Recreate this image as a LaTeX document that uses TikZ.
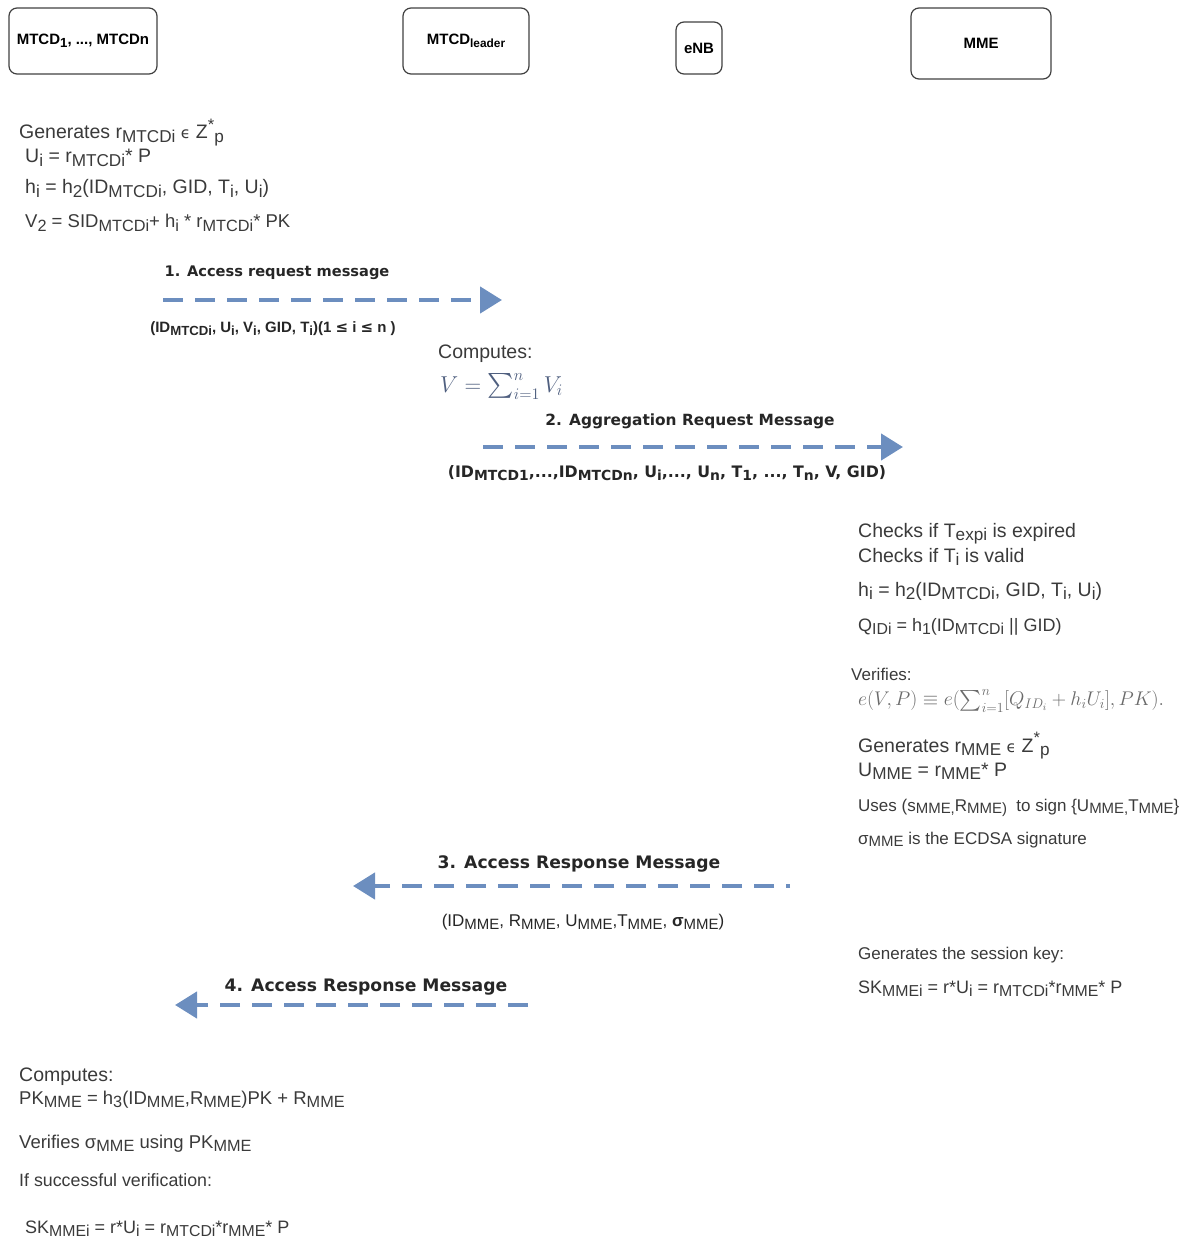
\RequirePackage{fix-cm}
\documentclass[tikz,border=0pt]{standalone}
\usepackage{exscale}
\usepackage{fontspec}
\setmainfont{Liberation Sans}
\newfontfamily\vfont{DejaVu Sans}
\usetikzlibrary{arrows.meta}

\definecolor{txt}{HTML}{3A3A3A}
\definecolor{flow}{HTML}{6C8EBF}
\definecolor{mathc}{HTML}{4F5F7F}
\definecolor{mathg}{HTML}{6A6A6A}

% lowered / raised text indices
\newcommand\sbx[1]{\raisebox{-0.32ex}{\scalebox{0.88}{#1}}}
\newcommand\spx[1]{\raisebox{0.8ex}{\scalebox{0.85}{#1}}}
\newcommand\elem{{\vfont\scalebox{0.8}{ϵ}}}

\tikzset{
  actor/.style={draw=black!75, line width=1.2pt, rounded corners=8pt, inner sep=0pt,
    font=\bfseries\fontsize{15}{18}\selectfont},
  line/.style={anchor=base west, inner sep=0pt, text=txt, font=\fontsize{#1}{22}\selectfont},
  line/.default=19.5,
  small/.style={anchor=base west, inner sep=0pt, text=txt, font=\fontsize{17}{20}\selectfont},
  msg/.style={line width=4.5pt, draw=flow, dash pattern=on 20pt off 12pt,
    -{Triangle[length=22pt,width=26pt]}},
  msglabel/.style={inner sep=0pt, text=black!85, font=\vfont\bfseries\fontsize{#1}{18}\selectfont},
  msglabel/.default=15,
}

\begin{document}
\begin{tikzpicture}[x=1pt, y=-1pt]
\useasboundingbox (0,0) rectangle (1184,1238);

% participants
\node[actor, minimum width=148pt, minimum height=66pt] (mtcd) at (83,41) {MTCD\sbx{1}, ..., MTCDn};
\node[actor, minimum width=126pt, minimum height=66pt] (leader) at (466,41) {MTCD\sbx{\scalebox{0.9}{leader}}};
\node[actor, minimum width=46pt, minimum height=52pt] (enb) at (699,48) {eNB};
\node[actor, minimum width=140pt, minimum height=71pt] (mme) at (981,43.5) {MME};

% MTCD side
\node[line] (g1) at (19,139) {Generates r\sbx{MTCDi} \elem\ Z\spx{*}\sbx{p}};
\node[line] (g2) at (25,163) {U\sbx{i} = r\sbx{MTCDi}* P};
\node[line] (g3) at (25,194) {h\sbx{i} = h\sbx{2}(ID\sbx{MTCDi}, GID, T\sbx{i}, U\sbx{i})};
\node[line=18.5] (g4) at (25,228) {V\sbx{2} = SID\sbx{MTCDi}+ h\sbx{i} * r\sbx{MTCDi}* PK};

% message 1
\coordinate (m1s) at (163,300);
\coordinate (m1e) at (502,300);
\draw[msg] (m1s) -- (m1e);
\node[msglabel=14.6] (m1l) at (277,273) {1. Access request message};
\node[inner sep=0pt, text=black!85, font=\bfseries\fontsize{15}{17}\selectfont] (m1p) at (273,329)
  {(ID\sbx{MTCDi}, U\sbx{i}, V\sbx{i}, GID, T\sbx{i})(1 {\vfont ≤} i {\vfont ≤} n )};

% leader aggregation
\node[line] (c1) at (438,358) {Computes:};
\node[anchor=base west, inner sep=0pt, text=mathc, font=\fontsize{23}{28}\selectfont] (c2) at (440,392)
  {$V = \sum_{i=1}^{n} V_i$};

% message 2
\coordinate (m2s) at (483,447);
\coordinate (m2e) at (903,447);
\draw[msg] (m2s) -- (m2e);
\node[msglabel=15.4] (m2l) at (690,421) {2. Aggregation Request Message};
\node[msglabel=15.8] (m2p) at (667,473)
  {(ID\sbx{MTCD1},...,ID\sbx{MTCDn}, U\sbx{i},..., U\sbx{n}, T\sbx{1}, ..., T\sbx{n}, V, GID)};

% MME verification
\node[line] (v1) at (858,537) {Checks if T\sbx{expi} is expired};
\node[line] (v2) at (858,562) {Checks if T\sbx{i} is valid};
\node[line] (v3) at (858,596) {h\sbx{i} = h\sbx{2}(ID\sbx{MTCDi}, GID, T\sbx{i}, U\sbx{i})};
\node[line=18] (v4) at (858,631) {Q\sbx{IDi} = h\sbx{1}(ID\sbx{MTCDi} || GID)};
\node[small] (v5) at (851,680) {Verifies:};
\node[anchor=west, inner sep=0pt, text=mathg, font=\fontsize{19.8}{24}\selectfont] (v6) at (858,701)
  {$e(V,P) \equiv e(\sum_{i=1}^{n}[Q_{ID_i} + h_iU_i], PK).$};
\node[line] (v7) at (858,752) {Generates r\sbx{MME} \elem\ Z\spx{*}\sbx{p}};
\node[line] (v8) at (858,776) {U\sbx{MME} = r\sbx{MME}* P};
\node[small] (v9) at (858,811) {Uses (s\sbx{MME,}R\sbx{MME)}\ \ to sign \{U\sbx{MME,}T\sbx{MME}\}};
\node[small] (v10) at (858,844) {σ\sbx{MME} is the ECDSA signature};

% message 3
\coordinate (m3s) at (790,886);
\coordinate (m3e) at (353,886);
\draw[msg, dash phase=16pt] (m3s) -- (m3e);
\node[msglabel=17.2] (m3l) at (579,864) {3. Access Response Message};
\node[inner sep=0pt, text=black!85, font=\fontsize{17}{20}\selectfont] (m3p) at (583,922)
  {(ID\sbx{MME}, R\sbx{MME}, U\sbx{MME},T\sbx{MME}, \textbf{σ}\sbx{MME})};

% session key on MME side
\node[small] (k1) at (858,959) {Generates the session key:};
\node[line=18] (k2) at (858,993) {SK\sbx{MMEi} = r*U\sbx{i} = r\sbx{MTCDi}*r\sbx{MME}* P};

% message 4
\coordinate (m4s) at (528,1005);
\coordinate (m4e) at (175,1005);
\draw[msg] (m4s) -- (m4e);
\node[msglabel=17.2] (m4l) at (366,987) {4. Access Response Message};

% MTCD final checks
\node[line] (f1) at (19,1081) {Computes:};
\node[line=18.5] (f2) at (19,1104) {PK\sbx{MME} = h\sbx{3}(ID\sbx{MME},R\sbx{MME})PK + R\sbx{MME}};
\node[line=18.5] (f3) at (19,1148) {Verifies σ\sbx{MME} using PK\sbx{MME}};
\node[line=17.8] (f4) at (19,1186) {If successful verification:};
\node[line=18] (f5) at (25,1233) {SK\sbx{MMEi} = r*U\sbx{i} = r\sbx{MTCDi}*r\sbx{MME}* P};
\end{tikzpicture}
\end{document}
